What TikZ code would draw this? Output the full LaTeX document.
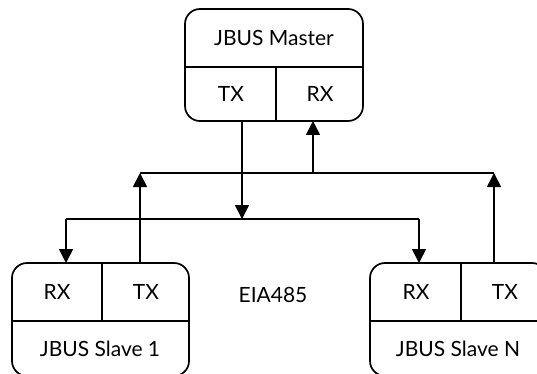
\documentclass[tikz,border=0pt]{standalone}
\usepackage{fontspec}
\setmainfont{Lato}
\usetikzlibrary{arrows.meta}

\begin{document}
\begin{tikzpicture}[x=1pt,y=-1pt]

	\tikzset{box/.style={line width=1.7pt, rounded corners=15pt}}
	\tikzset{cell/.style={line width=1.7pt}}
	\tikzset{lbl/.style={font=\fontsize{21}{24}\selectfont, inner sep=0pt}}
	\tikzset{arr/.style={line width=1.7pt, -{Triangle[width=14pt,length=14pt]}}}
	\tikzset{bus/.style={line width=1.7pt}}

	\useasboundingbox (0,0) rectangle (537,374);
	\clip (0,0) rectangle (537,374);

	% master
	\draw[box] (185,9) rectangle (363,121);
	\draw[cell] (185,67) -- (363,67);
	\draw[cell] (276,67) -- (276,121);
	\node[lbl] (master) at (274,38) {JBUS Master};
	\node[lbl] (mtx) at (231,94) {TX};
	\node[lbl] (mrx) at (320,94) {RX};

	% slave 1
	\draw[box] (12,263) rectangle (189,376);
	\draw[cell] (12,321) -- (189,321);
	\draw[cell] (102,263) -- (102,321);
	\node[lbl] (s1rx) at (57,292) {RX};
	\node[lbl] (s1tx) at (146,292) {TX};
	\node[lbl] (slave1) at (100,349) {JBUS Slave 1};

	% slave N
	\draw[box] (370,263) rectangle (547,376);
	\draw[cell] (370,321) -- (547,321);
	\draw[cell] (461,263) -- (461,321);
	\node[lbl] (snrx) at (416,292) {RX};
	\node[lbl] (sntx) at (505,292) {TX};
	\node[lbl] (slaveN) at (458,349) {JBUS Slave N};

	\node[lbl] (eia) at (273,295) {EIA485};

	% ports
	\coordinate (mtxp) at (242,121);
	\coordinate (mrxp) at (313,121);
	\coordinate (s1rxp) at (66,263);
	\coordinate (s1txp) at (140,263);
	\coordinate (snrxp) at (419,263);
	\coordinate (sntxp) at (494,263);

	% bus lines
	\coordinate (down) at (242,219);
	\coordinate (up) at (313,173);
	\draw[bus] (s1rxp |- down) -- (snrxp |- down);
	\draw[bus] (s1txp |- up) -- (sntxp |- up);

	\draw[arr] (mtxp) -- (down);
	\draw[arr] (up) -- (mrxp);
	\draw[arr] (s1rxp |- down) -- (s1rxp);
	\draw[arr] (snrxp |- down) -- (snrxp);
	\draw[arr] (s1txp) -- (s1txp |- up);
	\draw[arr] (sntxp) -- (sntxp |- up);

\end{tikzpicture}
\end{document}
